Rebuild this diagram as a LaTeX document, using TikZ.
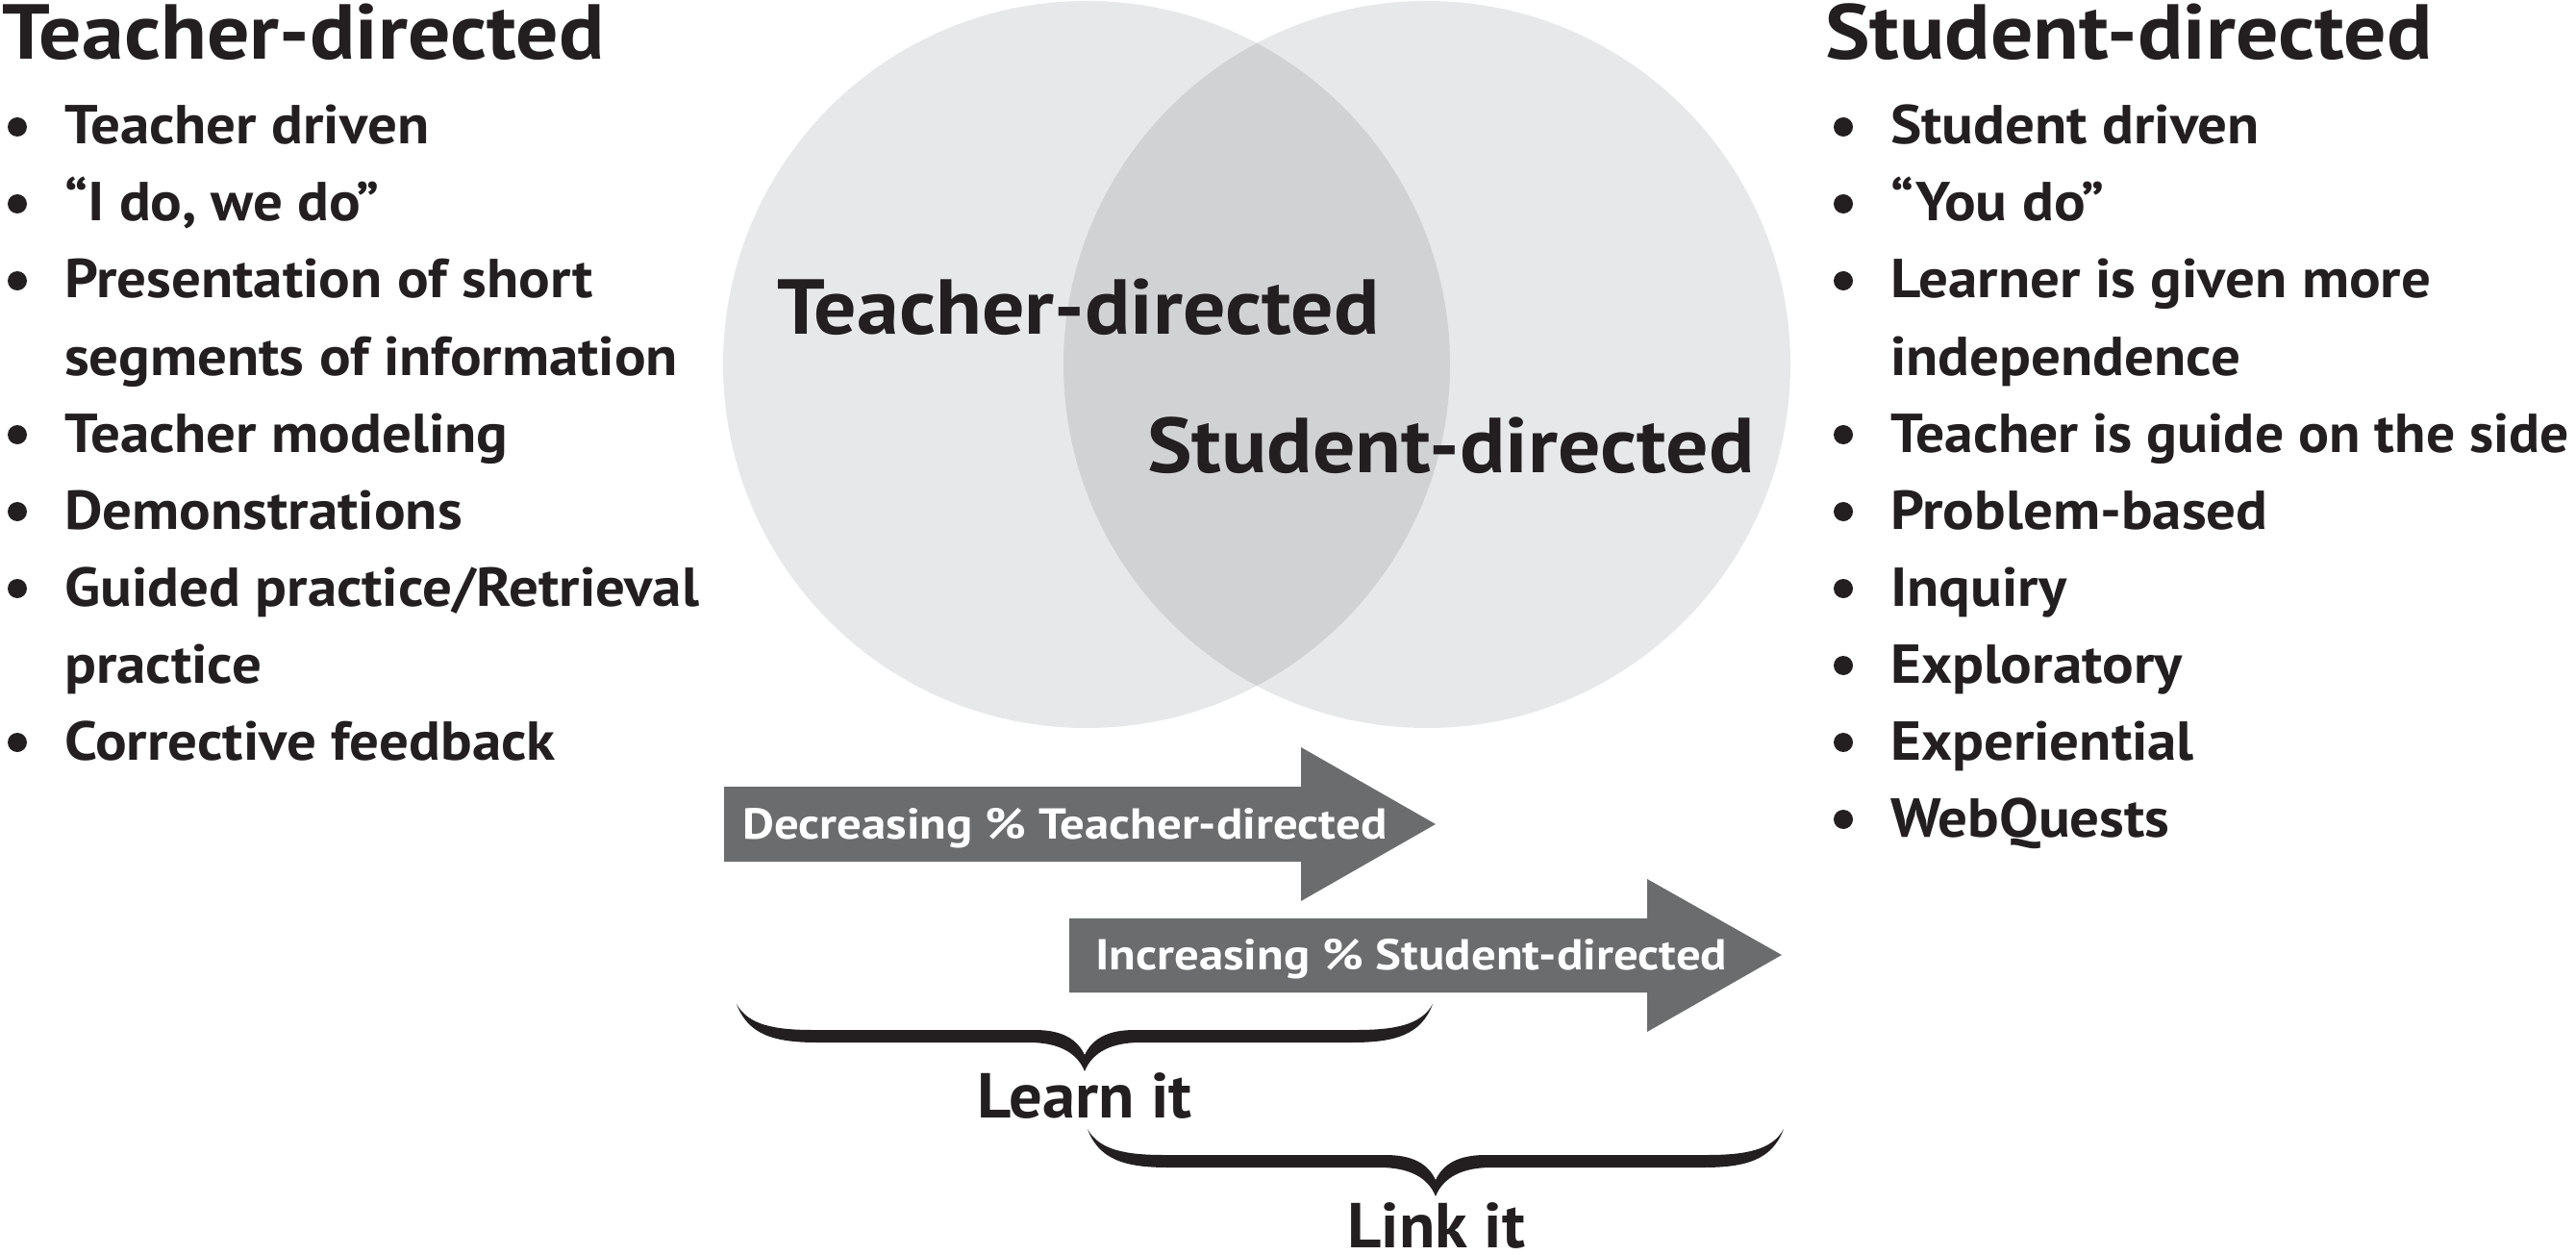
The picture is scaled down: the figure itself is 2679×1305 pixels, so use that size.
\documentclass[tikz,border=0pt]{standalone}
\usepackage{fontspec}
\setmainfont{PT Sans}
\newfontfamily\headfamily{PT Sans}[FakeStretch=1.085]
\newfontfamily\itemfamily{PT Sans}[FakeStretch=1.07]
\newfontfamily\itemnarrowfamily{PT Sans}[FakeStretch=1.045]
\newfontfamily\arrowfamily{PT Sans}[FakeStretch=1.13]
\newfontfamily\bracefamily{PT Sans}[FakeStretch=1.04]
\definecolor{ink}{HTML}{231F20}
\definecolor{circfill}{HTML}{E6E8E9}
\definecolor{overlapfill}{HTML}{D1D2D4}
\definecolor{arrowgray}{HTML}{6A6C6D}
\begin{document}
\begin{tikzpicture}[x=1pt,y=-1pt,
  headtext/.style={anchor=base west, inner sep=0pt, text=ink, font=\headfamily\fontsize{81}{90}\selectfont\bfseries},
  itemtext/.style={anchor=base west, inner sep=0pt, text=ink, font=\itemfamily\fontsize{57}{64}\selectfont\bfseries},
  itemnarrow/.style={itemtext, font=\itemnarrowfamily\fontsize{57}{64}\selectfont\bfseries},
  arrowtext/.style={anchor=base west, inner sep=0pt, text=white, font=\arrowfamily\fontsize{45}{50}\selectfont\bfseries},
  bracetext/.style={anchor=base, inner sep=0pt, text=ink, font=\bracefamily\fontsize{66}{72}\selectfont\bfseries},
  bulletdot/.style={fill=ink},
  bandarrow/.style={fill=arrowgray},
  bracefill/.style={fill=ink}]
\useasboundingbox (0,0) rectangle (2679,1305);

% Venn circles
\fill[circfill] (1130,379) circle (378);
\fill[circfill] (1484,379) circle (378);
\begin{scope}
  \clip (1130,379) circle (378);
  \fill[overlapfill] (1484,379) circle (378);
\end{scope}
\node[headtext] (cteach) at (808,348) {Teacher-directed};
\node[headtext] (cstud) at (1193,491) {Student-directed};

% Left column
\node[headtext] (lhead) at (2,62) {Teacher-directed};
\foreach \y in {150,230,310,470,550,630,790}
  \fill[bulletdot] (18,\y-18) circle (10);
\node[itemtext] (l1) at (67,150) {Teacher driven};
\node[itemtext] (l2) at (67,230) {“I do, we do”};
\node[itemtext] (l3) at (67,310) {Presentation of short};
\node[itemtext] (l4) at (67,390) {segments of information};
\node[itemtext] (l5) at (67,470) {Teacher modeling};
\node[itemtext] (l6) at (67,550) {Demonstrations};
\node[itemtext] (l7) at (67,630) {Guided practice/Retrieval};
\node[itemtext] (l8) at (67,710) {practice};
\node[itemtext] (l9) at (67,790) {Corrective feedback};

% Right column
\node[headtext] (rhead) at (1898,62) {Student-directed};
\foreach \y in {150,230,310,470,550,630,710,790,870}
  \fill[bulletdot] (1917,\y-18) circle (10);
\node[itemtext] (r1) at (1966,150) {Student driven};
\node[itemtext] (r2) at (1966,230) {“You do”};
\node[itemtext] (r3) at (1966,310) {Learner is given more};
\node[itemtext] (r4) at (1966,390) {independence};
\node[itemnarrow] (r5) at (1966,470) {Teacher is guide on the side};
\node[itemtext] (r6) at (1966,550) {Problem-based};
\node[itemtext] (r7) at (1966,630) {Inquiry};
\node[itemtext] (r8) at (1966,710) {Exploratory};
\node[itemtext] (r9) at (1966,790) {Experiential};
\node[itemtext] (r10) at (1966,870) {WebQuests};

% Arrows
\fill[bandarrow] (753,818) -- (1353,818) -- (1353,777) -- (1493,857) -- (1353,937) -- (1353,896) -- (753,896) -- cycle;
\node[arrowtext] (dec) at (772,872) {Decreasing \% Teacher-directed};
\fill[bandarrow] (1112,955) -- (1713,955) -- (1713,914) -- (1853,993) -- (1713,1073) -- (1713,1032) -- (1112,1032) -- cycle;
\node[arrowtext] (inc) at (1139,1008) {Increasing \% Student-directed};

% Braces
\foreach \dx/\dy in {0/0, 365/130}{
\begin{scope}[shift={(\dx,\dy)}]
\fill[bracefill] (766,1044) .. controls (778,1076) and (805,1084) .. (850,1084)
  -- (1070,1084) .. controls (1100,1084) and (1120,1094) .. (1128,1114)
  .. controls (1136,1094) and (1156,1084) .. (1186,1084)
  -- (1406,1084) .. controls (1451,1084) and (1478,1076) .. (1490,1044)
  .. controls (1478,1066) and (1450,1071) .. (1410,1071)
  -- (1180,1071) .. controls (1152,1071) and (1136,1080) .. (1128,1097)
  .. controls (1120,1080) and (1104,1071) .. (1076,1071)
  -- (846,1071) .. controls (806,1071) and (778,1066) .. cycle;
\end{scope}}
\node[bracetext] (learn) at (1128,1162) {Learn it};
\node[bracetext] (link) at (1494,1297) {Link it};
\end{tikzpicture}
\end{document}
